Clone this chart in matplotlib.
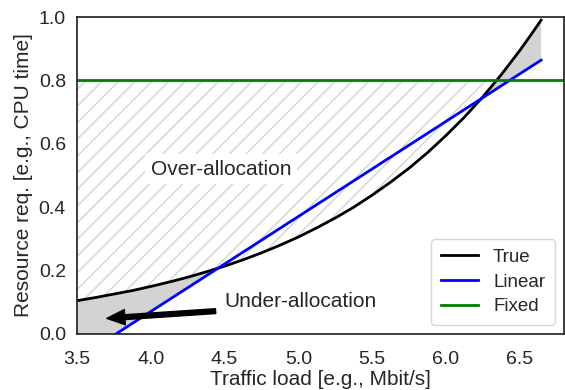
import numpy as np
import matplotlib
matplotlib.use("Agg")
import matplotlib.pyplot as plt

# values
load = [3.5, 3.625, 3.75, 3.875, 4.0, 4.125, 4.25, 4.375, 4.5, 4.625, 4.75,
        4.875, 5.0, 5.125, 5.25, 5.375, 5.5, 5.625, 5.75, 5.875, 6.0, 6.125,
        6.25, 6.375, 6.5, 6.575, 6.645]
true_req = [0.105, 0.115, 0.126, 0.137, 0.150, 0.164, 0.179, 0.196, 0.214,
            0.234, 0.256, 0.280, 0.306, 0.335, 0.366, 0.400, 0.438, 0.479,
            0.523, 0.572, 0.626, 0.684, 0.748, 0.818, 0.894, 0.943, 0.99]
linear_load = [3.5, 6.645]
linear_req = [-0.079, 0.864]
fixed_req = 0.8

plt.rcParams["font.family"] = ["Liberation Sans", "DejaVu Sans"]
plt.rcParams["text.color"] = ".15"
plt.rcParams["axes.labelcolor"] = ".15"
plt.rcParams["xtick.color"] = ".15"
plt.rcParams["ytick.color"] = ".15"

x = np.array(load)
y_true = np.array(true_req)
y_lin = np.interp(x, linear_load, linear_req)

fig = plt.figure(figsize=(5.65, 3.9), dpi=100)
ax = fig.add_axes([0.1363, 0.1436, 0.8619, 0.8128])

# over-allocation (hatched) and under-allocation (grey)
ax.fill_between(x, y_true, fixed_req, where=y_true < fixed_req, interpolate=True,
                facecolor="white", edgecolor="lightgray", hatch="//", linewidth=0)
ax.fill_between(x, y_lin, y_true, where=y_true > y_lin, interpolate=True,
                color="lightgray", linewidth=0)

ax.plot(x, y_true, color="black", lw=2, label="True")
ax.plot(linear_load, linear_req, color="blue", lw=2, label="Linear")
ax.axhline(fixed_req, color="green", lw=2, label="Fixed")

ax.text(4.0, 0.52, "Over-allocation", fontsize=15, va="center",
        bbox=dict(facecolor="white", edgecolor="none", pad=4))
ax.annotate("Under-allocation", xy=(3.66, 0.048), xytext=(4.5, 0.104),
            fontsize=15, va="center",
            arrowprops=dict(facecolor="black", edgecolor="black", shrink=0.05,
                            width=3.5, headwidth=11, headlength=13))

ax.set_xlim(3.5, 6.8)
ax.set_ylim(0, 1.0)
ax.set_xticks([3.5, 4.0, 4.5, 5.0, 5.5, 6.0, 6.5])
ax.set_yticks([0.0, 0.2, 0.4, 0.6, 0.8, 1.0])
ax.tick_params(labelsize=14, length=0)
ax.tick_params(axis="x", pad=12)
ax.tick_params(axis="y", pad=8)
ax.set_xlabel("Traffic load [e.g., Mbit/s]", fontsize=15, labelpad=2)
ax.set_ylabel("Resource req. [e.g., CPU time]", fontsize=15, labelpad=4)
for sp in ax.spines.values():
    sp.set_color(".15")
    sp.set_linewidth(1.25)

leg = ax.legend(loc="lower right", fontsize=13.5, handlelength=2, borderpad=0.5,
                labelspacing=0.4, fancybox=True)
leg.get_frame().set_edgecolor("0.8")

fig.savefig("out.png", dpi=100)
